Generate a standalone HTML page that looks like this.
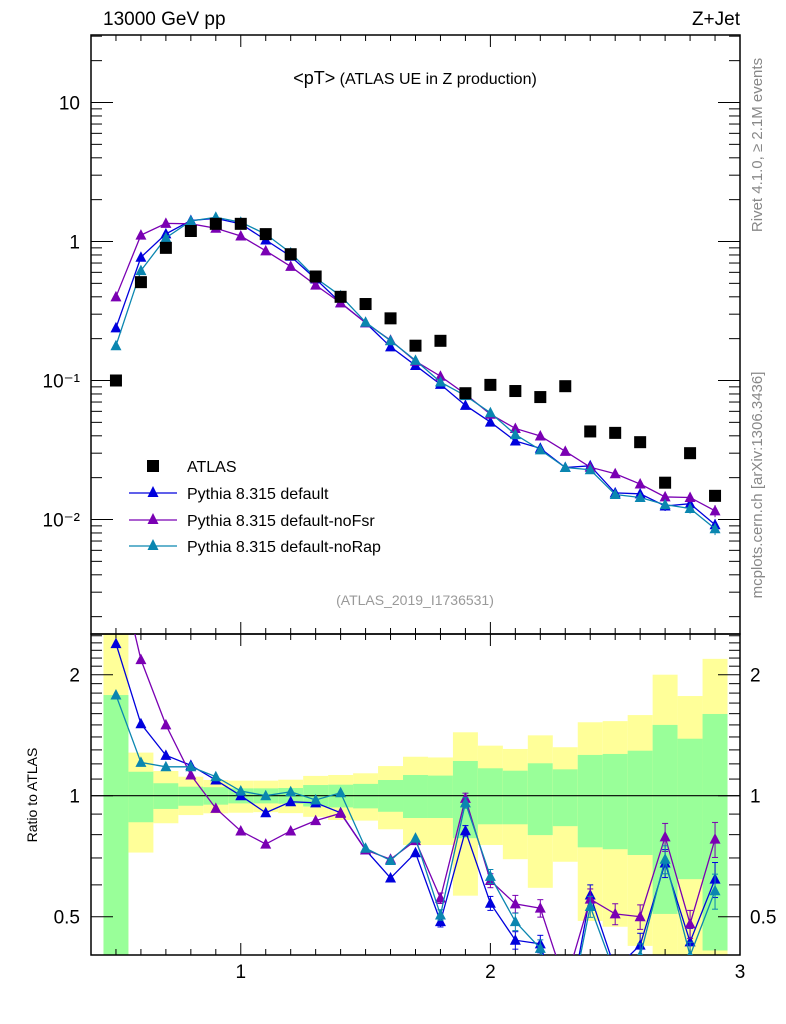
<!DOCTYPE html>
<html><head><meta charset="utf-8"><style>
html,body{margin:0;padding:0;background:#fff;}
svg{display:block;font-family:"Liberation Sans",sans-serif;}
</style></head><body>
<svg id="chart" width="786" height="1024" viewBox="0 0 786 1024" xmlns="http://www.w3.org/2000/svg">
<text x="103" y="25" font-size="19">13000 GeV pp</text>
<text x="740" y="25" font-size="19" text-anchor="end">Z+Jet</text>
<text x="415" y="84" font-size="16" text-anchor="middle"><tspan font-size="18">&lt;pT&gt;</tspan> (ATLAS UE in Z production)</text>
<text transform="translate(762,145) rotate(-90)" font-size="15" fill="#888" text-anchor="middle">Rivet 4.1.0, ≥ 2.1M events</text>
<text transform="translate(762,485) rotate(-90)" font-size="15" fill="#888" text-anchor="middle">mcplots.cern.ch [arXiv:1306.3436]</text>
<text x="415" y="605" font-size="14" fill="#999" text-anchor="middle">(ATLAS_2019_I1736531)</text>
<text transform="translate(37,795) rotate(-90)" font-size="14" text-anchor="middle">Ratio to ATLAS</text>
<g id="bands"></g>
<g id="axes"></g>
<g id="series"></g>
<g id="legend">
<rect x="147" y="460" width="12" height="12" fill="#000"/>
<text x="187" y="472" font-size="16">ATLAS</text>
<line x1="129" y1="493" x2="177" y2="493" stroke="#0000dd" stroke-width="1.3"/>
<polygon points="153,486 147.5,497 158.5,497" fill="#0000dd"/>
<text x="187" y="499" font-size="16">Pythia 8.315 default</text>
<line x1="129" y1="520" x2="177" y2="520" stroke="#7a00b3" stroke-width="1.3"/>
<polygon points="153,513 147.5,524 158.5,524" fill="#7a00b3"/>
<text x="187" y="526" font-size="16">Pythia 8.315 default-noFsr</text>
<line x1="129" y1="546" x2="177" y2="546" stroke="#0a86b0" stroke-width="1.3"/>
<polygon points="153,539 147.5,550 158.5,550" fill="#0a86b0"/>
<text x="187" y="552" font-size="16">Pythia 8.315 default-noRap</text>
</g>
</svg>
<script>
const xCenters=[0.5,0.6,0.7,0.8,0.9,1.0,1.1,1.2,1.3,1.4,1.5,1.6,1.7,1.8,1.9,2.0,2.1,2.2,2.3,2.4,2.5,2.6,2.7,2.8,2.9];
const atlasValues=[0.1,0.51,0.9,1.19,1.34,1.34,1.13,0.81,0.56,0.40,0.355,0.28,0.178,0.193,0.081,0.093,0.084,0.076,0.091,0.043,0.042,0.036,0.0184,0.030,0.0148];
const ratioDefault=[2.39,1.51,1.26,1.19,1.094,1.0,0.907,0.966,0.96,0.907,0.733,0.624,0.721,0.486,0.818,0.54,0.437,0.428,0.26,0.566,0.37,0.425,0.68,0.433,0.62];
const ratioNoFsr=[4.0,2.18,1.50,1.126,0.93,0.817,0.758,0.817,0.867,0.904,0.733,0.695,0.773,0.556,0.985,0.615,0.538,0.525,0.34,0.553,0.508,0.5,0.79,0.48,0.78];
const ratioNoRap=[1.78,1.21,1.18,1.18,1.115,1.027,1.0,1.023,0.976,1.017,0.74,0.69,0.784,0.505,0.96,0.63,0.486,0.417,0.26,0.53,0.36,0.40,0.695,0.40,0.58];
const mcRelErr=[0.01,0.01,0.01,0.01,0.01,0.01,0.01,0.01,0.01,0.01,0.01,0.015,0.02,0.03,0.03,0.04,0.05,0.05,0.05,0.06,0.06,0.07,0.08,0.08,0.1];
const yellowUp=[2.6,1.28,1.152,1.115,1.094,1.09,1.09,1.096,1.12,1.126,1.137,1.185,1.25,1.245,1.438,1.332,1.307,1.413,1.32,1.523,1.533,1.587,2.0,1.77,2.19];
const greenUp=[1.78,1.147,1.074,1.053,1.05,1.043,1.043,1.045,1.063,1.065,1.07,1.094,1.126,1.122,1.22,1.17,1.154,1.204,1.163,1.263,1.27,1.294,1.5,1.386,1.597];
const greenDown=[0.3,0.859,0.927,0.944,0.95,0.957,0.957,0.955,0.94,0.935,0.93,0.912,0.88,0.88,0.784,0.849,0.849,0.798,0.84,0.744,0.736,0.712,0.508,0.62,0.412];
const yellowDown=[0.3,0.722,0.854,0.895,0.904,0.907,0.91,0.905,0.886,0.87,0.867,0.825,0.754,0.754,0.564,0.754,0.695,0.59,0.685,0.488,0.472,0.423,0.3,0.3,0.3];
const mainTicks=["10","1","10\u207B\u00B9","10\u207B\u00B2"];
const ratioTicks=["2","1","0.5"];
const xTicks=["1","2","3"];

const NS="http://www.w3.org/2000/svg";
const L=91,R=740,MT=35,MB=634,RB=955;
const X=x=>L+(x-0.4)*(R-L)/2.6;
const Ym=v=>241.5-Math.log10(v)*139;
const Yr=r=>795.7-Math.log2(r)*121;
const clampR=y=>Math.max(MB,Math.min(RB,y));
function mk(tag,attrs,parent){const e=document.createElementNS(NS,tag);for(const k in attrs)e.setAttribute(k,attrs[k]);parent.appendChild(e);return e;}
const bands=document.getElementById('bands'),axes=document.getElementById('axes'),series=document.getElementById('series');

// bands
xCenters.forEach((x,i)=>{
  const x0=X(x-0.05),x1=X(x+0.05);
  const yu=clampR(Yr(yellowUp[i])),yd=clampR(Yr(yellowDown[i]));
  const r1=mk('rect',{x:x0,y:yu,width:x1-x0,height:yd-yu,fill:'#ffff99'},bands);
  
  
  const gu=clampR(Yr(greenUp[i])),gd=clampR(Yr(greenDown[i]));
  const r2=mk('rect',{x:x0,y:gu,width:x1-x0,height:gd-gu,fill:'#99ff99'},bands);
  
  
});

// axes frames
const f1=mk('rect',{x:L,y:MT,width:R-L,height:MB-MT,fill:'none',stroke:'#000','stroke-width':1.5},axes);


const f2=mk('rect',{x:L,y:MB,width:R-L,height:RB-MB,fill:'none',stroke:'#000','stroke-width':1.5},axes);


const ref=mk('line',{x1:L,x2:R,y1:Yr(1),y2:Yr(1),stroke:'#000','stroke-width':1.2},axes);



// main y ticks
for(let d=-3;d<=1;d++){for(let m=1;m<10;m++){const v=m*Math.pow(10,d);const y=Ym(v);if(y<MT||y>MB)continue;const len=m===1?22:11;
  mk('line',{x1:L,x2:L+len,y1:y,y2:y,stroke:'#000','stroke-width':1},axes);
  mk('line',{x1:R,x2:R-len,y1:y,y2:y,stroke:'#000','stroke-width':1},axes);}}
[10,1,0.1,0.01].forEach((v,i)=>{const t=mk('text',{x:80,y:Ym(v)+7,'font-size':19,'text-anchor':'end'},axes);t.textContent=mainTicks[i];
  
  });
// ratio y ticks
[0.4,0.5,0.6,0.7,0.8,0.9,1,1.1,1.2,1.3,1.4,1.5,1.6,1.7,1.8,1.9,2,2.1,2.2,2.3,2.4,2.5].forEach(v=>{const y=Yr(v);if(y<MB||y>RB)return;const len=(v===0.5||v===1||v===2)?22:11;
  mk('line',{x1:L,x2:L+len,y1:y,y2:y,stroke:'#000','stroke-width':1},axes);
  mk('line',{x1:R,x2:R-len,y1:y,y2:y,stroke:'#000','stroke-width':1},axes);});
[2,1,0.5].forEach((v,i)=>{
  const t=mk('text',{x:80,y:Yr(v)+7,'font-size':19,'text-anchor':'end'},axes);t.textContent=ratioTicks[i];
  
  
  const t2=mk('text',{x:750,y:Yr(v)+7,'font-size':19},axes);t2.textContent=ratioTicks[i];
  
  });
// x ticks
for(let k=4;k<=30;k++){const x=X(k/10);const len=(k%10===0)?12:6;
  [[MT,1],[MB,-1],[MB,1],[RB,-1]].forEach(([y0,s])=>mk('line',{x1:x,x2:x,y1:y0,y2:y0+s*len,stroke:'#000','stroke-width':1},axes));}
[1,2,3].forEach((v,i)=>{const t=mk('text',{x:X(v),y:978,'font-size':19,'text-anchor':'middle'},axes);t.textContent=xTicks[i];
  
  });

// clip paths
const defs=mk('defs',{},series);
const c1=mk('clipPath',{id:'cm'},defs);mk('rect',{x:L,y:MT,width:R-L,height:MB-MT},c1);
const c2=mk('clipPath',{id:'cr'},defs);mk('rect',{x:L,y:MB,width:R-L,height:RB-MB},c2);
const gm=mk('g',{'clip-path':'url(#cm)'},series);
const gr=mk('g',{'clip-path':'url(#cr)'},series);

function tri(g,x,y,col,name){const p=mk('polygon',{points:`${x},${y-6} ${x-5.5},${y+4.5} ${x+5.5},${y+4.5}`,fill:col},g);
  
  }
const mcs=[[ratioDefault,'#0000dd','default'],[ratioNoFsr,'#7a00b3','nofsr'],[ratioNoRap,'#0a86b0','norap']];
mcs.forEach(([rat,col,nm])=>{
  const mainPts=xCenters.map((x,i)=>[X(x),Ym(rat[i]*atlasValues[i])]);
  const ratPts=xCenters.map((x,i)=>[X(x),Yr(rat[i])]);
  const l1=mk('polyline',{points:mainPts.map(p=>p.join(',')).join(' '),fill:'none',stroke:col,'stroke-width':1.3},gm);
  
  
  const l2=mk('polyline',{points:ratPts.map(p=>p.join(',')).join(' '),fill:'none',stroke:col,'stroke-width':1.3},gr);
  
  
  xCenters.forEach((x,i)=>{
    const e=mcRelErr[i];
    if(e>0.02){
      const v=rat[i]*atlasValues[i];
      mk('line',{x1:X(x),x2:X(x),y1:Ym(v*(1+e)),y2:Ym(v*(1-e)),stroke:col,'stroke-width':1},gm);
      mk('line',{x1:X(x),x2:X(x),y1:Yr(rat[i]*(1+e)),y2:Yr(rat[i]*(1-e)),stroke:col,'stroke-width':1},gr);
      mk('line',{x1:X(x)-3,x2:X(x)+3,y1:Yr(rat[i]*(1+e)),y2:Yr(rat[i]*(1+e)),stroke:col,'stroke-width':1},gr);
      mk('line',{x1:X(x)-3,x2:X(x)+3,y1:Yr(rat[i]*(1-e)),y2:Yr(rat[i]*(1-e)),stroke:col,'stroke-width':1},gr);
    }
    tri(gm,mainPts[i][0],mainPts[i][1],col,nm+'-main-point');
    tri(gr,ratPts[i][0],ratPts[i][1],col,nm+'-ratio-point');
  });
});
xCenters.forEach((x,i)=>{const r=mk('rect',{x:X(x)-6,y:Ym(atlasValues[i])-6,width:12,height:12,fill:'#000'},gm);
  
  });
</script>
</body></html>
